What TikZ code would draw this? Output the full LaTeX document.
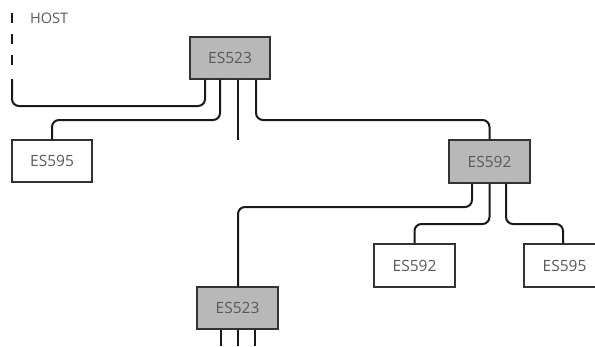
\documentclass[tikz,border=0pt]{standalone}
\usepackage{fontspec}
\setmainfont{Open Sans}
\begin{document}
\begin{tikzpicture}[x=1pt,y=-1pt,
  box/.style={draw=black!80,line width=1.2pt,minimum width=80pt,minimum height=42pt,inner sep=0pt,font=\fontsize{15.5}{17}\selectfont,text=black!65},
  hub/.style={box,fill=black!28},
  dev/.style={box,fill=white},
  wire/.style={draw=black!90,line width=2pt,rounded corners=7pt}]
\useasboundingbox (0,0) rectangle (595,346);
\node[hub] (esA) at (230,58) {ES523};
\node[dev] (esB) at (52,161) {ES595};
\node[hub,minimum width=81pt,minimum height=43pt] (esC) at (489.5,161.5) {ES592};
\node[dev,minimum width=81pt,minimum height=43pt] (esD) at (414.5,265.5) {ES592};
\node[dev,minimum width=81pt,minimum height=43pt] (esE) at (564.5,265.5) {ES595};
\node[hub,minimum width=81pt] (esF) at (237.5,308) {ES523};
\node[anchor=base west,font=\fontsize{14.5}{16}\selectfont,text=black!65,inner sep=0pt] (host) at (30,23.5) {HOST};
\coordinate (hostEnd) at (12,79);
\coordinate (freeA) at (238,140);
\coordinate (o1) at (221,346);
\coordinate (o2) at (238,346);
\coordinate (o3) at (255,346);
% wires
\draw[wire] (esA.south -| 205,0) |- (12,106) -- (hostEnd);
\draw[draw=black!90,line width=2pt,dash pattern=on 10pt off 11pt] (12,13) -- (12,65);
\draw[wire] (esA.south -| 220,0) |- (52,120) -- (esB.north);
\draw[wire] (esA.south -| 238,0) -- (freeA);
\draw[wire] (esA.south -| 256,0) |- (489.5,120) -- (esC.north);
\draw[wire] (esC.south -| 472,0) |- (238,207) -- (esF.north -| 238,0);
\draw[wire] (esC.south) |- (414.5,224) -- (esD.north);
\draw[wire] (esC.south -| 506,0) |- (563,224) -- (esE.north -| 563,0);
\draw[wire] (esF.south -| 221,0) -- (o1);
\draw[wire] (esF.south -| 238,0) -- (o2);
\draw[wire] (esF.south -| 255,0) -- (o3);
\end{tikzpicture}
\end{document}
